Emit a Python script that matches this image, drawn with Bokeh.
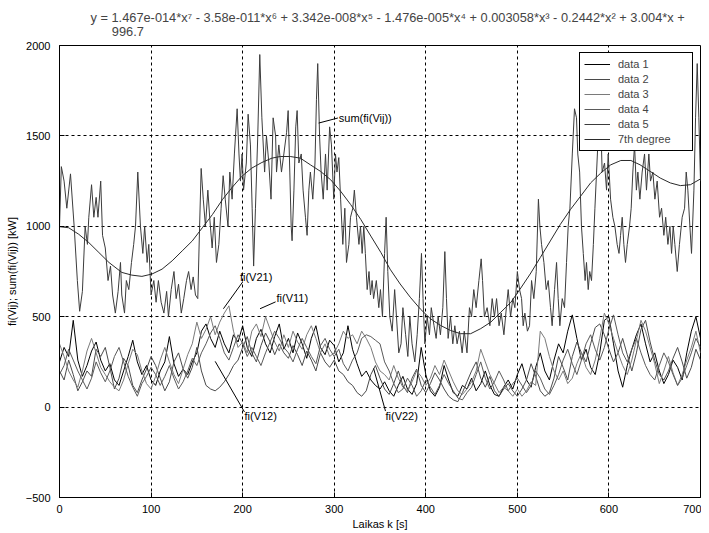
from bokeh.plotting import figure
from bokeh.models import Range1d, SingleIntervalTicker
from bokeh.embed import file_html
from bokeh.resources import INLINE
from bokeh.core.properties import value

FONT = "Liberation Sans"

# time axis for the four component series (every 5 s)
k = list(range(0, 705, 5))

fi_V11 = [250, 330, 280, 480, 260, 170, 230, 310, 360, 260,
          200, 240, 150, 120, 200, 280, 370, 250, 180, 230,
          150, 120, 200, 250, 390, 240, 170, 210, 180, 250,
          300, 420, 460, 380, 330, 420, 350, 300, 400, 360,
          450, 330, 280, 380, 430, 350, 300, 390, 460, 320,
          380, 300, 410, 350, 270, 380, 450, 330, 290, 370,
          340, 250, 300, 450, 320, 240, 170, 200, 150, 120,
          100, 140, 90, 60, 120, 170, 100, 70, 130, 330,
          180, 90, 60, 110, 230, 150, 80, 60, 120, 100,
          160, 90, 130, 200, 120, 70, 60, 110, 150, 100,
          180, 240, 150, 110, 220, 300, 200, 150, 260, 350,
          300, 420, 510, 380, 260, 320, 220, 180, 300, 480,
          500, 350, 200, 110, 230, 320, 400, 460, 350, 250,
          300, 200, 130, 180, 260, 220, 150, 300, 420, 500,
          380]

fi_V12 = [200, 150, 260, 180, 90, 140, 200, 170, 320, 280,
          330, 220, 100, 160, 270, 230, 120, 80, 150, 210,
          280, 230, 160, 90, 140, 250, 300, 210, 160, 220,
          330, 200, 120, 100, 90, 110, 140, 180, 230, 260,
          330, 390, 300, 250, 340, 410, 360, 290, 350, 300,
          270, 340, 290, 230, 310, 260, 200, 300, 250, 220,
          260, 200, 180, 140, 120, 80, 60, 90, 180, 230,
          160, 100, 70, 130, 200, 120, 80, 160, 210, 120,
          80, 130, 190, 150, 100, 60, 40, 30, 80, 140,
          200, 250, 160, 110, 170, 90, 60, 100, 130, 90,
          60, 100, 150, 240, 170, 90, 60, 80, 160, 280,
          220, 150, 280, 360, 300, 250, 350, 440, 460, 400,
          320, 250, 300, 380, 290, 200, 300, 430, 480, 360,
          260, 180, 150, 200, 270, 330, 250, 160, 220, 320,
          260]

fi_V21 = [350, 280, 200, 150, 110, 200, 310, 380, 300, 220,
          180, 140, 110, 90, 150, 240, 320, 290, 200, 130,
          100, 170, 260, 330, 250, 180, 130, 210, 290, 350,
          470, 380, 430, 500, 400, 470, 520, 560, 420, 330,
          360, 300, 420, 460, 390, 500, 430, 360, 310, 400,
          330, 420, 360, 320, 400, 450, 380, 300, 350, 280,
          300, 350, 420, 380, 400, 350, 420, 380, 330, 250,
          200, 180, 150, 230, 160, 110, 90, 140, 200, 170,
          120, 160, 230, 180, 260, 200, 140, 90, 70, 100,
          140, 200, 320, 250, 180, 130, 80, 110, 90, 60,
          100, 60, 90, 140, 120, 420, 380, 280, 200, 150,
          200, 130, 160, 240, 300, 220, 180, 260, 380, 520,
          460, 380, 300, 230, 180, 260, 370, 480, 420, 330,
          240, 130, 200, 280, 190, 120, 180, 260, 330, 420,
          300]

fi_V22 = [180, 230, 320, 260, 200, 150, 100, 160, 250, 190,
          140, 200, 280, 330, 250, 170, 110, 60, 130, 170,
          220, 180, 120, 170, 230, 160, 100, 140, 200, 270,
          230, 300, 350, 410, 450, 380, 300, 260, 330, 400,
          350, 280, 330, 280, 230, 300, 360, 420, 380, 330,
          300, 250, 320, 380, 330, 280, 240, 340, 380, 320,
          280, 320, 240, 200, 260, 300, 380, 400, 390, 370,
          350, 250, 200, 130, 80, 100, 160, 120, 60, 90,
          150, 110, 70, 120, 180, 130, 90, 50, 40, 80,
          110, 180, 250, 160, 100, 140, 200, 150, 90, 130,
          160, 120, 80, 120, 200, 160, 100, 70, 120, 180,
          260, 320, 240, 180, 260, 350, 400, 320, 260, 330,
          430, 510, 400, 300, 250, 320, 380, 300, 230, 180,
          150, 230, 300, 250, 180, 120, 160, 230, 300, 380,
          330]

# sum(fi(Vij)): (k, value)
sum_points = [
    (0, 1000), (2, 1330), (5, 1250), (8, 1100), (12, 1290), (16, 1000), (19.5, 700), (22, 530),
    (25, 640), (28, 1000), (30.5, 900), (32, 1050), (35, 1230), (37.5, 1050), (40, 1160), (42, 1050),
    (45, 1250), (47, 950), (50, 880), (53, 700), (55.7, 780), (58, 620), (61, 520), (64, 640),
    (66.6, 800), (68, 620), (71, 520), (73, 700), (75.7, 650), (78.6, 800), (81, 900), (83, 1000),
    (85.5, 1300), (88.4, 1000), (91, 850), (93, 1000), (95.7, 800), (97.5, 900), (100, 620), (103, 700),
    (105.5, 580), (108, 700), (111, 580), (114, 520), (117, 640), (119, 500), (122, 650), (125, 750),
    (127.4, 600), (130, 680), (133, 520), (135.7, 600), (138.7, 700), (141, 750), (143.7, 650), (146, 720),
    (148.5, 620), (151, 600), (153, 1000), (154.7, 1320), (157, 1150), (159.4, 1000), (162, 1200), (164, 1050),
    (166.7, 880), (169, 1050), (171.4, 800), (174, 900), (176.5, 1100), (178.7, 1280), (181, 1150), (184, 1000),
    (186, 1300), (188.5, 1150), (191, 1400), (194, 1650), (196, 1400), (197.6, 1250), (199.4, 1400), (201, 1200),
    (204, 1350), (206, 1620), (208.5, 1450), (210.4, 1100), (212, 780), (214, 1100), (216.5, 1500), (218.7, 1950),
    (221, 1600), (224, 1300), (226, 1500), (228.6, 1350), (231, 1150), (233.3, 1600), (236, 1500), (237, 1300),
    (239.5, 1450), (242.4, 1300), (245, 1400), (248, 1520), (249.7, 1640), (251.5, 1300), (253, 1000), (254, 920),
    (256, 1200), (258, 1550), (259.5, 1640), (261.4, 1350), (264, 1400), (266, 1200), (268.6, 1050), (270.4, 950),
    (272.3, 1200), (274, 1300), (276.6, 1150), (279, 1350), (280.6, 1700), (282, 1900), (284, 1500), (285.7, 1300),
    (288, 1150), (290.5, 1400), (292.3, 1200), (295, 1550), (297, 1450), (299.5, 1150), (301.4, 1400), (303, 1300),
    (305, 1380), (307, 1150), (309.4, 900), (311.6, 1100), (313.4, 800), (316, 900), (317.8, 1050), (320.3, 1100),
    (322, 1200), (324.3, 1050), (327, 900), (328.7, 1000), (330.5, 850), (332.3, 1000), (334, 850), (336, 650),
    (338, 750), (339.6, 620), (341.4, 700), (343, 600), (346, 700), (348.7, 550), (350.5, 650), (352.7, 500),
    (355, 850), (356.7, 1050), (358.5, 750), (360.7, 500), (363.3, 420), (366, 650), (368, 500), (370.5, 300),
    (373, 350), (375, 550), (378, 400), (380.4, 280), (382.6, 500), (385, 350), (388, 250), (390.6, 400),
    (393, 600), (395.3, 850), (397, 600), (399, 350), (401.5, 500), (404, 400), (406, 550), (409, 450),
    (411.3, 380), (413.5, 500), (416, 400), (418.6, 550), (420.8, 860), (422.6, 600), (424.4, 380), (427, 500),
    (429.5, 350), (431.7, 450), (434.2, 350), (436.8, 420), (439.7, 300), (442, 420), (445, 300), (447.7, 550),
    (450, 500), (452.4, 650), (455, 550), (458, 700), (460.5, 820), (462, 700), (464, 500), (467, 550),
    (470, 450), (472.5, 600), (475, 500), (477.3, 600), (480, 450), (482.4, 520), (485.3, 400), (488, 550),
    (490, 650), (492.6, 500), (495, 600), (497.3, 550), (500, 750), (502.4, 650), (504.6, 600), (506.4, 450),
    (508.2, 520), (511, 420), (513.3, 450), (515.5, 700), (518, 600), (520.6, 750), (523, 1150), (524.6, 1000),
    (526.4, 900), (529, 800), (531.5, 650), (533.7, 700), (536.2, 550), (538, 450), (540.6, 650), (542.8, 800),
    (544.6, 600), (546.4, 450), (549, 600), (551.5, 550), (553.7, 800), (555.5, 1000), (557.4, 1100), (560, 1400),
    (562.4, 1650), (564.6, 1600), (566, 1400), (568, 1300), (570, 1000), (572, 850), (574, 700), (575.5, 800),
    (577.4, 650), (579, 750), (581, 700), (583, 900), (584.7, 1100), (586.5, 1300), (588.3, 1500), (591, 1600),
    (592.6, 1300), (595.2, 1350), (597.4, 1200), (599.2, 1400), (601.8, 1150), (604.3, 1050), (606.5, 1000), (609, 900),
    (611, 850), (612.7, 950), (614.5, 1050), (616.3, 900), (618.1, 800), (620, 900), (622.5, 1000), (624.3, 1100),
    (626.1, 1300), (628, 1450), (630, 1200), (631.6, 1300), (633.8, 1150), (636.3, 1300), (638.9, 1400), (641, 1200),
    (643.6, 1400), (645.4, 1250), (648, 1300), (650.2, 1150), (652.7, 1250), (655.3, 1050), (657.5, 1100), (660, 950),
    (662, 1050), (664.4, 900), (666.6, 1000), (668.4, 850), (670.2, 1000), (672, 900), (674.6, 750), (677, 900),
    (680, 1050), (682.6, 1100), (684.4, 1300), (686.2, 1200), (688.4, 1000), (690.2, 850), (692.8, 1200), (694.6, 1600),
    (696.4, 1900), (698.2, 1600), (700, 1250),
]

# 7th degree polynomial fit as drawn: (k, value)
fit_points = [
    (0, 998), (10, 992), (21, 956), (32, 910), (43, 855), (54, 800), (68, 745), (79, 730),
    (90, 723), (101, 736), (112, 763), (123, 809), (134, 864), (145, 919), (156, 992), (167, 1065),
    (178, 1148), (188, 1212), (199, 1276), (210, 1322), (221, 1353), (232, 1377), (241, 1386), (252, 1386),
    (263, 1377), (274, 1340), (285, 1304), (296, 1258), (307, 1194), (318, 1120), (329, 1038), (340, 946),
    (351, 855), (361, 763), (372, 681), (383, 608), (394, 543), (405, 489), (416, 452), (427, 424),
    (438, 406), (449, 406), (460, 434), (471, 470), (482, 525), (493, 580), (503, 653), (514, 736),
    (525, 827), (536, 919), (547, 1011), (558, 1093), (569, 1166), (580, 1240), (591, 1294), (602, 1340),
    (613, 1364), (624, 1364), (634, 1340), (645, 1304), (656, 1267), (667, 1240), (678, 1225), (689, 1230),
    (700, 1262),
]

x_ticks_step = 100
y_ticks_step = 500

title_line1 = ("y = 1.467e-014*x\u2077 - 3.58e-011*x\u2076 + 3.342e-008*x\u2075 - 1.476e-005*x\u2074"
               " + 0.003058*x\u00b3 - 0.2442*x\u00b2 + 3.004*x +")
title_line2 = "996.7"

# callout labels: (text, text_x, text_y, from_x, from_y, to_x, to_y)
callouts = [
    ("sum(fi(Vij))", 305, 1599, 283, 1571, 304, 1599),
    ("fi(V21)", 197, 720, 179, 544, 200, 692),
    ("fi(V11)", 237, 604, 219, 544, 236, 582),
    ("fi(V12)", 202, -49, 170, 253, 202, -27),
    ("fi(V22)", 356, -49, 343, 214, 356, -22),
]

sum_k = [a for a, b in sum_points]
sum_v = [b for a, b in sum_points]
fit_k = [a for a, b in fit_points]
fit_v = [b for a, b in fit_points]

p = figure(width=701, height=532, output_backend="svg", toolbar_location=None,
           x_range=Range1d(0, 700), y_range=Range1d(-500, 2000),
           min_border_left=59, min_border_right=1, min_border_top=45, min_border_bottom=24)

p.title.text = title_line1 + "\n" + "\u00a0" * 6 + title_line2
p.title.align = "left"
p.title.offset = 31
p.title.text_font = FONT
p.title.text_font_size = "12.8px"
p.title.text_font_style = "normal"
p.title.text_line_height = 0.95
p.title.standoff = 13

series = [(fi_V11, "#000000", "data 1"), (fi_V12, "#4a4a4a", "data 2"),
          (fi_V21, "#7a7a7a", "data 3"), (fi_V22, "#5a5a5a", "data 4")]
for ys, col, lab in series:
    p.line(k, ys, line_color=col, line_width=1, legend_label=lab)
p.line(sum_k, sum_v, line_color="#3c3c3c", line_width=1, legend_label="data 5")
p.line(fit_k, fit_v, line_color="#2a2a2a", line_width=1, legend_label="7th degree")

for txt, tx, ty, x0, y0, x1, y1 in callouts:
    p.line([x0, x1], [y0, y1], line_color="black", line_width=1)
    p.text([tx], [ty], text=[txt], text_font=value(FONT), text_font_size="11px",
           text_baseline="middle", text_align="left", text_color="black")

p.xaxis.ticker = SingleIntervalTicker(interval=x_ticks_step)
p.yaxis.ticker = SingleIntervalTicker(interval=y_ticks_step)
for ax in (p.xaxis[0], p.yaxis[0]):
    ax.major_tick_in = 5
    ax.major_tick_out = 0
    ax.minor_tick_line_color = None
    ax.major_label_text_font = FONT
    ax.major_label_text_font_size = "11px"
    ax.major_label_text_color = "black"
    ax.major_label_text_line_height = 1.0
    ax.axis_line_color = "black"
    ax.major_tick_line_color = "black"
    ax.axis_label_text_font = FONT
    ax.axis_label_text_font_size = "11px"
    ax.axis_label_text_font_style = "normal"
    ax.axis_label_text_color = "black"
    ax.axis_label_text_line_height = 1.0
p.xaxis.major_label_standoff = 3
p.xaxis.axis_label = "Laikas k [s]"
p.xaxis.axis_label_standoff = 2
p.yaxis.major_label_standoff = 5
p.yaxis.axis_label = "fi(Vij); sum(fi(Vij)) [kW]"
p.yaxis.axis_label_standoff = 5

for g in (p.xgrid[0], p.ygrid[0]):
    g.grid_line_color = "black"
    g.grid_line_dash = "3 3"
    g.grid_line_alpha = 1.0
    g.grid_line_width = 1

p.outline_line_color = "black"
p.outline_line_alpha = 1.0
p.background_fill_color = "white"
p.border_fill_color = "white"

lg = p.legend[0]
lg.location = "top_right"
lg.margin = 7
lg.padding = 4
lg.spacing = 1
lg.glyph_height = 14
lg.glyph_width = 26
lg.label_height = 14
lg.label_width = 70
lg.label_standoff = 8
lg.label_text_font = FONT
lg.label_text_font_size = "11px"
lg.border_line_color = "black"
lg.border_line_alpha = 1.0
lg.background_fill_alpha = 1.0

open("out.html", "w").write(file_html(p, INLINE))
